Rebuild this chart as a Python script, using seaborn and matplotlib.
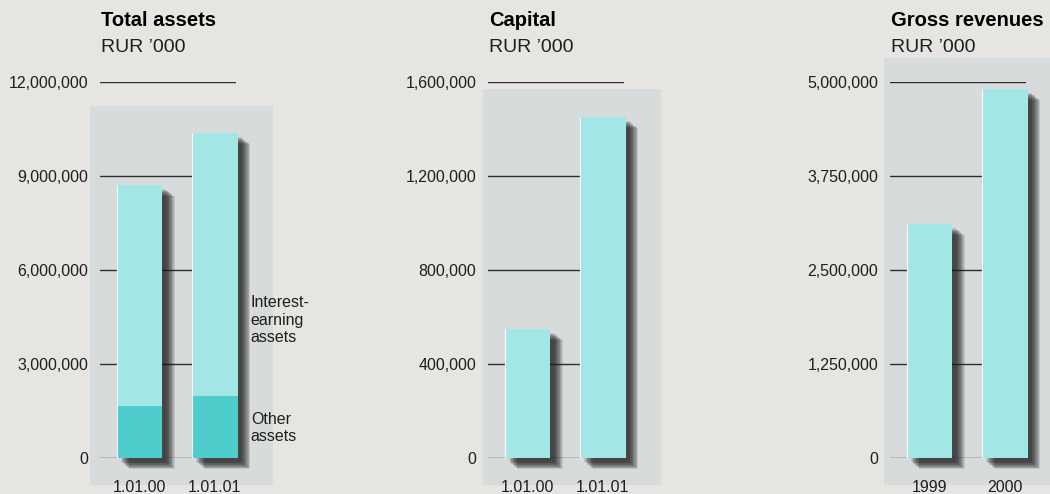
"""Three bar panels: total assets, capital and gross revenues (RUR '000)."""
import matplotlib

matplotlib.use("Agg")
import matplotlib.pyplot as plt
import matplotlib.patheffects as pe
from matplotlib.patches import Rectangle
import seaborn as sns

# data
asset_dates = ["1.01.00", "1.01.01"]
total_assets = [8_710_000, 10_370_000]
other_assets = [1_660_000, 1_980_000]

capital_dates = ["1.01.00", "1.01.01"]
capital = [549_000, 1_451_000]

revenue_years = ["1999", "2000"]
gross_revenues = [3_110_000, 4_910_000]

PAPER = "#e7e5e2"
BOX = "#d8dbdb"
LIGHT = "#a3e6e6"
DARK = "#4fcdcd"
INK = "#1e1e1e"
FONT = ["Liberation Sans", "DejaVu Sans"]

W, H = 1050, 494


def fig_rect(x0, y0, x1, y1):
    """pixel box (top-left origin) -> figure fraction rect"""
    return [x0 / W, (H - y1) / H, (x1 - x0) / W, (y1 - y0) / H]


def shadow():
    # stack of offset copies -> fake blurred drop shadow
    effects = []
    n = 12
    for i in range(n):
        effects.append(pe.SimplePatchShadow(offset=(3.0 + i * 0.55, -3.0 - i * 0.45),
                                            shadow_rgbFace="#1a1a1a", alpha=0.11))
    effects.append(pe.Normal())
    return effects


def panel(fig, left, box, title, labels, values, ymax, ticks, lower=None):
    r = fig_rect(*box)
    fig.add_artist(Rectangle(r[:2], r[2], r[3], transform=fig.transFigure,
                             color=BOX, zorder=0, lw=0))
    ax = fig.add_axes(fig_rect(left, 82, left + 136, 458))
    ax.set_facecolor("none")
    sns.barplot(x=labels, y=values, ax=ax, color=LIGHT, width=0.6, saturation=1,
                linewidth=0)
    tall = list(ax.patches)
    for p in tall:
        p.set_path_effects(shadow())
        p.set_zorder(3)
        p.set_clip_on(False)
    if lower is not None:
        sns.barplot(x=labels, y=lower, ax=ax, color=DARK, width=0.6, saturation=1,
                    linewidth=0)
        for p in ax.patches[len(tall):]:
            p.set_zorder(4)
            p.set_clip_on(False)
    # thin highlight on the left edge of each bar
    for p in tall:
        ax.plot([p.get_x(), p.get_x()], [0, p.get_height()], color="white",
                lw=0.8, zorder=5, solid_capstyle="butt", alpha=0.9, clip_on=False)

    ax.set_xlim(-0.523, 1.28)
    ax.set_ylim(0, ymax)
    ax.set_yticks(ticks)
    ax.set_yticklabels([f"{t:,.0f}" for t in ticks])
    ax.grid(axis="y", color="#2e2e2e", lw=1.0, zorder=1)
    ax.grid(axis="x", visible=False)
    ax.set_axisbelow(True)
    for s in ax.spines.values():
        s.set_visible(False)
    ax.tick_params(axis="y", length=0, pad=8.5, labelsize=11.5, labelcolor=INK)
    ax.tick_params(axis="x", length=0, pad=16, labelsize=11.5, labelcolor=INK)
    for lab in ax.get_xticklabels() + ax.get_yticklabels():
        lab.set_family(FONT)
    ax.set_xlabel("")
    ax.set_ylabel("")

    fig.text((left + 1) / W, 1 - 21 / H, title, fontsize=14.5, fontweight="bold",
             color="black", va="center", ha="left", family=FONT)
    fig.text((left + 1) / W, 1 - 47 / H, "RUR \u2019000", fontsize=14,
             color=INK, va="center", ha="left", family=FONT)
    return ax


def main() -> None:
    sns.set_theme(style="white")
    fig = plt.figure(figsize=(W / 100, H / 100), dpi=100, facecolor=PAPER)

    ax1 = panel(fig, 100, (90, 106, 273, 485), "Total assets", asset_dates, total_assets,
                12_000_000, [0, 3_000_000, 6_000_000, 9_000_000, 12_000_000], lower=other_assets)
    ax1.text(1.477, 4_400_000, "Interest-\nearning\nassets", fontsize=11.5, color=INK,
             ha="left", va="center", linespacing=1.2, clip_on=False, family=FONT)
    ax1.text(1.477, 960_000, "Other\nassets", fontsize=11.5, color=INK,
             ha="left", va="center", linespacing=1.2, clip_on=False, family=FONT)

    panel(fig, 488, (483, 89, 661, 485), "Capital", capital_dates, capital,
          1_600_000, [0, 400_000, 800_000, 1_200_000, 1_600_000])

    panel(fig, 890, (884, 58, 1050, 485), "Gross revenues", revenue_years, gross_revenues,
          5_000_000, [0, 1_250_000, 2_500_000, 3_750_000, 5_000_000])

    fig.savefig("out.png", dpi=100, facecolor=PAPER)
    plt.close(fig)


if __name__ == "__main__":
    main()
